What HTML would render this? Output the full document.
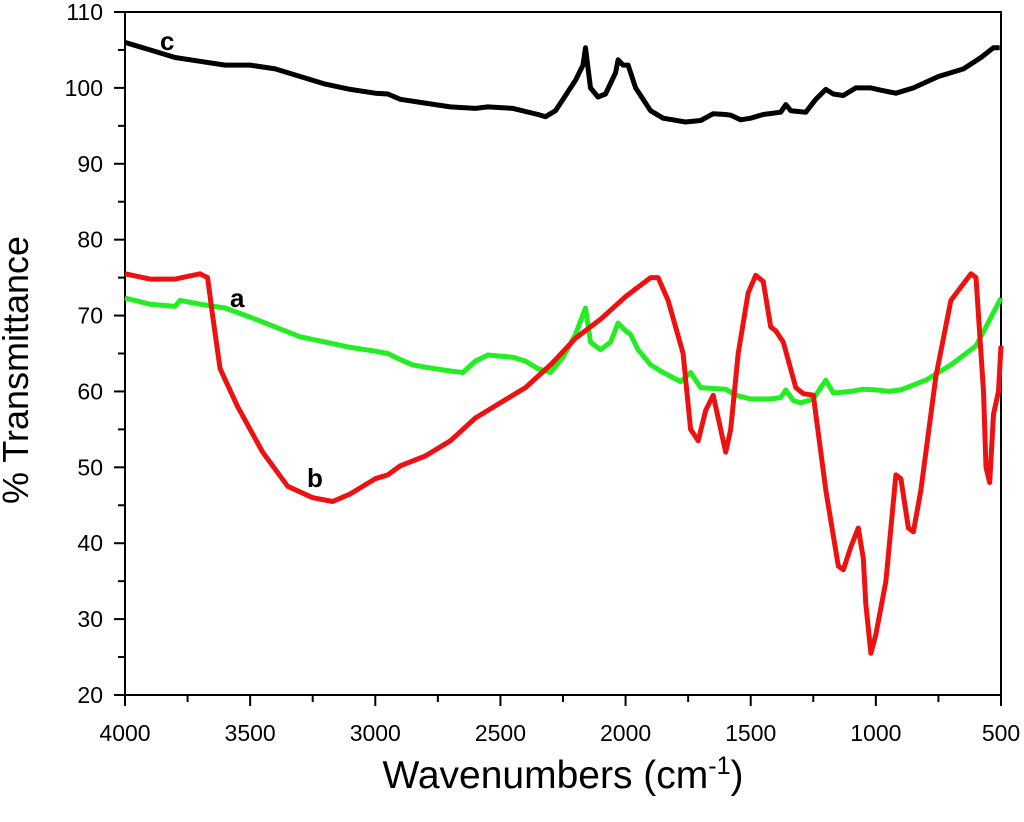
<!DOCTYPE html>
<html><head><meta charset="utf-8"><style>
body{margin:0;background:#fff}
svg text{font-family:"Liberation Sans",Arial,sans-serif}
</style></head><body>
<svg id="chart" width="1024" height="817" xmlns="http://www.w3.org/2000/svg">
<g id="axes"></g><g id="series"></g>
<text x="563" y="788" font-size="39" text-anchor="middle">Wavenumbers (cm<tspan dy="-14" font-size="25">-1</tspan><tspan dy="14">)</tspan></text>
<text transform="translate(28,370) rotate(-90)" font-size="36" text-anchor="middle">% Transmittance</text>
<text x="160" y="50" font-size="26" font-weight="bold">c</text>
<text x="230" y="307" font-size="26" font-weight="bold">a</text>
<text x="307" y="487" font-size="26" font-weight="bold">b</text>
</svg>
<script>
const xTicks=[4000,3500,3000,2500,2000,1500,1000,500];
const yTicks=[20,30,40,50,60,70,80,90,100,110];
const cWn=[4000,3900,3800,3700,3600,3500,3400,3300,3200,3100,3000,2950,2900,2800,2700,2600,2550,2450,2350,2320,2280,2200,2170,2160,2140,2110,2080,2040,2030,2010,1990,1960,1900,1850,1760,1700,1650,1600,1580,1540,1500,1450,1380,1360,1340,1280,1240,1200,1170,1130,1080,1020,980,920,850,750,650,580,530,505];
const cVal=[106,105,104,103.5,103,103,102.5,101.5,100.5,99.8,99.3,99.2,98.5,98,97.5,97.3,97.5,97.3,96.5,96.2,97,101,103,105.3,100,98.8,99.2,102,103.7,103,103,100,97,96,95.5,95.7,96.6,96.5,96.4,95.8,96,96.5,96.8,97.8,97,96.8,98.5,99.8,99.2,99,100,100,99.7,99.3,100,101.5,102.5,104,105.3,105.3];
const aWn=[4000,3900,3800,3780,3700,3600,3500,3400,3300,3200,3100,3000,2950,2900,2850,2800,2700,2650,2600,2550,2450,2400,2350,2300,2250,2200,2160,2140,2100,2060,2030,2000,1980,1950,1900,1850,1780,1740,1700,1600,1560,1500,1420,1380,1360,1330,1300,1250,1200,1170,1100,1050,1000,950,900,800,700,600,500];
const aVal=[72.3,71.5,71.2,72,71.5,71,69.8,68.5,67.2,66.5,65.8,65.3,65,64.2,63.5,63.2,62.7,62.5,64,64.8,64.5,64,63,62.5,64.5,67.5,71,66.5,65.5,66.5,69,68,67.5,65.5,63.5,62.5,61.3,62.5,60.5,60.3,59.5,59,59,59.2,60.2,58.8,58.5,59,61.5,59.8,60,60.3,60.2,60,60.2,61.5,63.5,66,72.3];
const bWn=[4000,3900,3800,3700,3670,3650,3620,3550,3450,3350,3250,3170,3100,3000,2950,2900,2800,2700,2600,2500,2400,2300,2200,2100,2000,1900,1870,1830,1800,1770,1740,1710,1680,1650,1620,1600,1580,1550,1510,1480,1450,1420,1400,1370,1320,1290,1250,1200,1150,1130,1100,1070,1050,1040,1020,1000,960,920,900,870,850,820,760,700,620,600,570,560,545,530,510,500];
const bVal=[75.5,74.8,74.8,75.5,75,70,63,58,52,47.5,46,45.5,46.5,48.5,49,50.2,51.5,53.5,56.5,58.5,60.5,63.5,67,69.5,72.5,75,75,72,68.5,65,55,53.5,57.5,59.5,55,52,55,65,73,75.3,74.5,68.5,68,66.5,60.5,59.7,59.5,47,37,36.5,39.5,42,38,32,25.5,28,35,49,48.5,42,41.5,47,62,72,75.5,75,60,50,48,57,60,66];
const X0=125,X1=1001,Y0=695,Y1=12;
const xs=w=>X0+(4000-w)/3500*(X1-X0);
const ys=v=>Y0-(v-20)/90*(Y0-Y1);
const NS="http://www.w3.org/2000/svg";
const ax=document.getElementById('axes');
function mk(t,a,p){const e=document.createElementNS(NS,t);for(const k in a)e.setAttribute(k,a[k]);p.appendChild(e);return e;}
const frame=mk('rect',{x:X0,y:Y1,width:X1-X0,height:Y0-Y1,fill:'none',stroke:'#000','stroke-width':2},ax);


for(let i=0;i<xTicks.length;i++){
 const x=xs(xTicks[i]);
 mk('line',{x1:x,y1:Y0,x2:x,y2:Y0+11,stroke:'#000','stroke-width':2},ax);
 if(i<xTicks.length-1){const xm=xs(xTicks[i]-250);mk('line',{x1:xm,y1:Y0,x2:xm,y2:Y0+7,stroke:'#000','stroke-width':2},ax);}
 const t=mk('text',{x:x,y:Y0+46,'font-size':23,'text-anchor':'middle'},ax);t.textContent=xTicks[i];
 
 
}
for(let i=0;i<yTicks.length;i++){
 const y=ys(yTicks[i]);
 mk('line',{x1:X0,y1:y,x2:X0-11,y2:y,stroke:'#000','stroke-width':2},ax);
 if(i<yTicks.length-1){const ym=ys(yTicks[i]+5);mk('line',{x1:X0,y1:ym,x2:X0-7,y2:ym,stroke:'#000','stroke-width':2},ax);}
 const t=mk('text',{x:X0-22,y:y+8,'font-size':23,'text-anchor':'end'},ax);t.textContent=yTicks[i];
 
 
}
const sg=document.getElementById('series');
function line(wn,val,col,name){
 const d=wn.map((w,i)=>(i?'L':'M')+xs(w).toFixed(1)+','+ys(val[i]).toFixed(1)).join('');
 const p=mk('path',{d:d,fill:'none',stroke:col,'stroke-width':5,'stroke-linejoin':'round'},sg);
 
 
}
line(aWn,aVal,'#22ee22','series-a');
line(bWn,bVal,'#ee1111','series-b');
line(cWn,cVal,'#000','series-c');
</script>
</body></html>
